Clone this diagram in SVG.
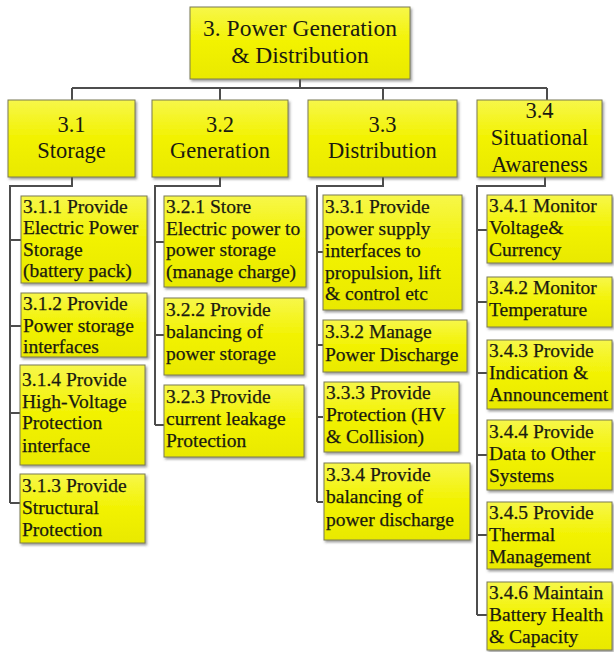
<svg xmlns="http://www.w3.org/2000/svg" width="614" height="652" viewBox="0 0 614 652">
<defs>
<linearGradient id="yg" x1="0" y1="0" x2="0" y2="1">
<stop offset="0" stop-color="#f7f74a"/>
<stop offset="0.5" stop-color="#f2f200"/>
<stop offset="1" stop-color="#e9e900"/>
</linearGradient>
<filter id="sh" x="-10%" y="-10%" width="120%" height="130%">
<feDropShadow dx="1.5" dy="2" stdDeviation="1.2" flood-color="#555" flood-opacity="0.55"/>
</filter>
</defs>
<style>
.box{fill:url(#yg);stroke:#7a7a55;stroke-width:1;filter:url(#sh)}
.t0,.t1,.t2{fill:#1a1a10}
.t0{font-size:23.5px;text-anchor:middle}
.t1{font-size:22.5px;text-anchor:middle}
.t2{font-size:19.5px;stroke:#1a1a10;stroke-width:0.25}
.c{fill:none;stroke:#4d4d4d;stroke-width:2}
</style>
<rect width="614" height="652" fill="#ffffff"/>

<g id="connectors">
<path class="c" d="M300 79V88M72 88H547M72 88V100M220 88V100M383 88V100M547 88V100"/>
<path class="c" d="M72 177V186H10V503M10 240H21M10 326H21M10 413H21M10 503H21"/>
<path class="c" d="M220 177V186H155V425M155 242H164M155 335H164M155 425H164"/>
<path class="c" d="M383 177V186H317V502M317 252H323M317 345H323M317 417H323M317 502H323"/>
<path class="c" d="M545 177V186H477V615M477 230H487M477 302H487M477 373H487M477 455H487M477 535H487M477 615H487"/>
</g>

<g font-family="Liberation Serif, Times New Roman, Tinos, Noto Serif, DejaVu Serif, FreeSerif, Nimbus Roman, serif">
<g id="n3">
<rect class="box" x="190" y="7" width="220" height="72"/>
<text class="t0" x="300" y="36">3. Power Generation</text>
<text class="t0" x="300" y="63">&amp; Distribution</text>
</g>

<g id="n3_1">
<rect class="box" x="8" y="100" width="127" height="77"/>
<text class="t1" x="71.5" y="132">3.1</text>
<text class="t1" x="71.5" y="158">Storage</text>
</g>
<g id="n3_2">
<rect class="box" x="152" y="100" width="136" height="77"/>
<text class="t1" x="220" y="132">3.2</text>
<text class="t1" x="220" y="158">Generation</text>
</g>
<g id="n3_3">
<rect class="box" x="308" y="100" width="149" height="77"/>
<text class="t1" x="382.5" y="132">3.3</text>
<text class="t1" x="382.5" y="158">Distribution</text>
</g>
<g id="n3_4">
<rect class="box" x="477" y="100" width="125" height="77"/>
<text class="t1" x="539.5" y="118">3.4</text>
<text class="t1" x="539.5" y="145">Situational</text>
<text class="t1" x="539.5" y="172">Awareness</text>
</g>

<g id="n3_1_1">
<rect class="box" x="21" y="196" width="126" height="87"/>
<text class="t2" x="23" y="213">3.1.1 Provide</text>
<text class="t2" x="23" y="234">Electric Power</text>
<text class="t2" x="23" y="256">Storage</text>
<text class="t2" x="23" y="277">(battery pack)</text>
</g>
<g id="n3_1_2">
<rect class="box" x="21" y="293" width="126" height="64"/>
<text class="t2" x="23" y="310">3.1.2 Provide</text>
<text class="t2" x="23" y="332">Power storage</text>
<text class="t2" x="23" y="353">interfaces</text>
</g>
<g id="n3_1_4">
<rect class="box" x="20" y="365" width="125" height="100"/>
<text class="t2" x="22" y="386">3.1.4 Provide</text>
<text class="t2" x="22" y="408">High-Voltage</text>
<text class="t2" x="22" y="429">Protection</text>
<text class="t2" x="22" y="452">interface</text>
</g>
<g id="n3_1_3">
<rect class="box" x="20" y="474" width="125" height="69"/>
<text class="t2" x="22" y="492">3.1.3 Provide</text>
<text class="t2" x="22" y="514">Structural</text>
<text class="t2" x="22" y="536">Protection</text>
</g>

<g id="n3_2_1">
<rect class="box" x="164" y="196" width="142" height="91"/>
<text class="t2" x="166" y="213">3.2.1 Store</text>
<text class="t2" x="166" y="235">Electric power to</text>
<text class="t2" x="166" y="256">power storage</text>
<text class="t2" x="166" y="278">(manage charge)</text>
</g>
<g id="n3_2_2">
<rect class="box" x="164" y="298" width="140" height="77"/>
<text class="t2" x="166" y="316">3.2.2 Provide</text>
<text class="t2" x="166" y="338">balancing of</text>
<text class="t2" x="166" y="360">power storage</text>
</g>
<g id="n3_2_3">
<rect class="box" x="164" y="385" width="140" height="72"/>
<text class="t2" x="166" y="403">3.2.3 Provide</text>
<text class="t2" x="166" y="425">current leakage</text>
<text class="t2" x="166" y="447">Protection</text>
</g>

<g id="n3_3_1">
<rect class="box" x="323" y="195" width="139" height="115"/>
<text class="t2" x="325" y="213">3.3.1 Provide</text>
<text class="t2" x="325" y="235">power supply</text>
<text class="t2" x="325" y="257">interfaces to</text>
<text class="t2" x="325" y="279">propulsion, lift</text>
<text class="t2" x="325" y="300">&amp; control etc</text>
</g>
<g id="n3_3_2">
<rect class="box" x="323" y="320" width="144" height="52"/>
<text class="t2" x="325" y="338">3.3.2 Manage</text>
<text class="t2" x="325" y="361">Power Discharge</text>
</g>
<g id="n3_3_3">
<rect class="box" x="324" y="382" width="135" height="70"/>
<text class="t2" x="326" y="399">3.3.3 Provide</text>
<text class="t2" x="326" y="421">Protection (HV</text>
<text class="t2" x="326" y="443">&amp; Collision)</text>
</g>
<g id="n3_3_4">
<rect class="box" x="324" y="463" width="146" height="77"/>
<text class="t2" x="326" y="481">3.3.4 Provide</text>
<text class="t2" x="326" y="503">balancing of</text>
<text class="t2" x="326" y="526">power discharge</text>
</g>

<g id="n3_4_1">
<rect class="box" x="487" y="195" width="125" height="68"/>
<text class="t2" x="489" y="212">3.4.1 Monitor</text>
<text class="t2" x="489" y="234">Voltage&amp;</text>
<text class="t2" x="489" y="256">Currency</text>
</g>
<g id="n3_4_2">
<rect class="box" x="487" y="277" width="125" height="50"/>
<text class="t2" x="489" y="294">3.4.2 Monitor</text>
<text class="t2" x="489" y="316">Temperature</text>
</g>
<g id="n3_4_3">
<rect class="box" x="487" y="340" width="125" height="69"/>
<text class="t2" x="489" y="357">3.4.3 Provide</text>
<text class="t2" x="489" y="379">Indication &amp;</text>
<text class="t2" x="489" y="401">Announcement</text>
</g>
<g id="n3_4_4">
<rect class="box" x="487" y="420" width="125" height="70"/>
<text class="t2" x="489" y="438">3.4.4 Provide</text>
<text class="t2" x="489" y="460">Data to Other</text>
<text class="t2" x="489" y="482">Systems</text>
</g>
<g id="n3_4_5">
<rect class="box" x="487" y="502" width="125" height="67"/>
<text class="t2" x="489" y="519">3.4.5 Provide</text>
<text class="t2" x="489" y="541">Thermal</text>
<text class="t2" x="489" y="563">Management</text>
</g>
<g id="n3_4_6">
<rect class="box" x="487" y="582" width="125" height="68"/>
<text class="t2" x="489" y="599">3.4.6 Maintain</text>
<text class="t2" x="489" y="621">Battery Health</text>
<text class="t2" x="489" y="643">&amp; Capacity</text>
</g>
</g>
</svg>
